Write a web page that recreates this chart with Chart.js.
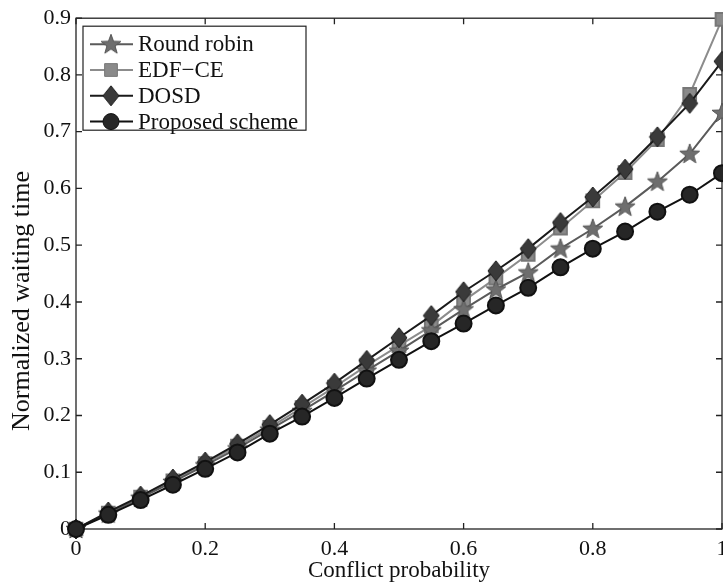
<!DOCTYPE html>
<html>
<head>
<meta charset="utf-8">
<script src="https://cdn.jsdelivr.net/npm/chart.js@4"></script>
<style>
  html, body { margin: 0; padding: 0; background: #fff; overflow: hidden; }
  #wrap { width: 723px; height: 586px; overflow: hidden; }
</style>
</head>
<body>
<div id="wrap"><canvas id="chart" width="745" height="586"></canvas></div>
<script>
// conflict probability (x) and normalized waiting time per scheme
const probs = [0, 0.05, 0.1, 0.15, 0.2, 0.25, 0.3, 0.35, 0.4, 0.45, 0.5,
               0.55, 0.6, 0.65, 0.7, 0.75, 0.8, 0.85, 0.9, 0.95, 1];
const roundRobin = [0, 0.027, 0.055, 0.083, 0.112, 0.142, 0.175, 0.208, 0.243, 0.279, 0.314,
                    0.350, 0.387, 0.422, 0.452, 0.494, 0.529, 0.568, 0.612, 0.661, 0.733];
const edfCe = [0, 0.028, 0.056, 0.085, 0.115, 0.146, 0.179, 0.214, 0.250, 0.288, 0.323,
               0.358, 0.402, 0.442, 0.484, 0.530, 0.578, 0.628, 0.686, 0.766, 0.898];
const dosd = [0, 0.030, 0.058, 0.088, 0.118, 0.150, 0.184, 0.220, 0.257, 0.297, 0.337,
              0.376, 0.418, 0.455, 0.494, 0.540, 0.585, 0.634, 0.691, 0.750, 0.824];
const proposed = [0, 0.025, 0.051, 0.078, 0.106, 0.135, 0.168, 0.198, 0.231, 0.265, 0.298,
                  0.331, 0.362, 0.394, 0.425, 0.461, 0.494, 0.524, 0.559, 0.589, 0.627];

const xTicks = [0, 0.2, 0.4, 0.6, 0.8, 1];
const yTicks = [0, 0.1, 0.2, 0.3, 0.4, 0.5, 0.6, 0.7, 0.8, 0.9];
const yTitle = 'Normalized waiting time';

const FONT = '"Liberation Serif", "Times New Roman", serif';

function makeStar() {
  const c = document.createElement('canvas');
  c.width = 22; c.height = 22;
  const g = c.getContext('2d');
  g.beginPath();
  for (let i = 0; i < 10; i++) {
    const r = i % 2 === 0 ? 10.5 : 4.3;
    const a = -Math.PI / 2 + i * Math.PI / 5;
    g.lineTo(11 + r * Math.cos(a), 11.5 + r * Math.sin(a));
  }
  g.closePath();
  g.fillStyle = '#6e6e6e';
  g.fill();
  g.strokeStyle = '#555';
  g.lineWidth = 1;
  g.stroke();
  return c;
}

function makeDiamond() {
  const c = document.createElement('canvas');
  c.width = 18; c.height = 22;
  const g = c.getContext('2d');
  g.beginPath();
  g.moveTo(9, 1); g.lineTo(17, 11); g.lineTo(9, 21); g.lineTo(1, 11);
  g.closePath();
  g.fillStyle = '#3a3a3a';
  g.fill();
  g.strokeStyle = '#1e1e1e';
  g.lineWidth = 1;
  g.stroke();
  return c;
}

const starImg = makeStar();
const diamondImg = makeDiamond();

function pts(ys) {
  return probs.map((x, i) => ({ x: x, y: ys[i] }));
}

// axes box with inward ticks on all four sides, plus the y title
const framePlugin = {
  id: 'frame',
  beforeDatasetsDraw(chart) {
    const ctx = chart.ctx;
    const { left, right, top, bottom } = chart.chartArea;
    const xs = chart.scales.x, ys = chart.scales.y;
    ctx.save();
    ctx.strokeStyle = '#222';
    ctx.lineWidth = 1.3;
    ctx.strokeRect(left, top, right - left, bottom - top);
    ctx.beginPath();
    xTicks.forEach(v => {
      const px = xs.getPixelForValue(v);
      ctx.moveTo(px, bottom); ctx.lineTo(px, bottom - 6);
      ctx.moveTo(px, top); ctx.lineTo(px, top + 6);
    });
    yTicks.forEach(v => {
      const py = ys.getPixelForValue(v);
      ctx.moveTo(left, py); ctx.lineTo(left + 6, py);
      ctx.moveTo(right, py); ctx.lineTo(right - 6, py);
    });
    ctx.stroke();

    // y title sits a bit below the middle of the axis in the original
    ctx.translate(22, ys.getPixelForValue(0.4) - 1);
    ctx.rotate(-Math.PI / 2);
    ctx.font = '26px ' + FONT;
    ctx.fillStyle = '#111';
    ctx.textAlign = 'center';
    ctx.textBaseline = 'middle';
    ctx.fillText(yTitle, 0, 0);
    ctx.restore();
  }
};

// matlab-style legend box inside the plot
const legendPlugin = {
  id: 'boxLegend',
  afterDraw(chart) {
    const ctx = chart.ctx;
    const { left, top } = chart.chartArea;
    const x0 = left + 7, y0 = top + 8, w = 223, h = 104;
    ctx.save();
    ctx.fillStyle = '#fff';
    ctx.fillRect(x0, y0, w, h);
    ctx.strokeStyle = '#222';
    ctx.lineWidth = 1.2;
    ctx.strokeRect(x0, y0, w, h);
    ctx.font = '23px ' + FONT;
    ctx.textBaseline = 'middle';
    chart.data.datasets.forEach((ds, i) => {
      const cy = y0 + 18 + i * 25.8;
      ctx.strokeStyle = ds.borderColor;
      ctx.lineWidth = 2;
      ctx.beginPath();
      ctx.moveTo(x0 + 7, cy); ctx.lineTo(x0 + 50, cy);
      ctx.stroke();
      ctx.fillStyle = ds.pointBackgroundColor;
      ctx.strokeStyle = ds.pointBorderColor;
      ctx.lineWidth = 1;
      Chart.helpers.drawPoint(ctx, { pointStyle: ds.pointStyle, radius: ds.pointRadius, rotation: 0, borderWidth: 1 }, x0 + 28, cy);
      ctx.fillStyle = '#111';
      ctx.fillText(ds.label, x0 + 55, cy + 1);
    });
    ctx.restore();
  }
};

new Chart(document.getElementById('chart'), {
  type: 'line',
  data: {
    datasets: [
      { label: 'Round robin', data: pts(roundRobin), borderColor: '#5a5a5a', borderWidth: 2,
        pointStyle: starImg, pointRadius: 9, pointBackgroundColor: '#6e6e6e', pointBorderColor: '#555', order: 2 },
      { label: 'EDF\u2212CE', data: pts(edfCe), borderColor: '#8c8c8c', borderWidth: 2,
        pointStyle: 'rect', pointRadius: 9, pointBackgroundColor: '#8a8a8a', pointBorderColor: '#777', order: 3 },
      { label: 'DOSD', data: pts(dosd), borderColor: '#1a1a1a', borderWidth: 2,
        pointStyle: diamondImg, pointRadius: 9, pointBackgroundColor: '#3a3a3a', pointBorderColor: '#1e1e1e', order: 1 },
      { label: 'Proposed scheme', data: pts(proposed), borderColor: '#111', borderWidth: 2,
        pointStyle: 'circle', pointRadius: 8, pointBackgroundColor: '#262626', pointBorderColor: '#111', order: 0 }
    ]
  },
  options: {
    responsive: false,
    animation: false,
    clip: false,
    layout: { padding: { top: 17, right: 23, left: 0, bottom: 0 } },
    elements: { line: { tension: 0 } },
    plugins: { legend: { display: false }, tooltip: { enabled: false } },
    scales: {
      x: {
        type: 'linear', min: 0, max: 1,
        afterBuildTicks: s => { s.ticks = xTicks.map(v => ({ value: v })); },
        afterFit: s => { s.height = 57; },
        grid: { display: false, drawTicks: false }, border: { display: false },
        ticks: { color: '#111', font: { family: FONT, size: 22 }, padding: 7,
                 maxRotation: 0, callback: v => String(Number(v.toFixed(1))) },
        title: { display: true, text: 'Conflict probability', color: '#111',
                 font: { family: FONT, size: 23 }, padding: { top: 0, bottom: 1 } }
      },
      y: {
        type: 'linear', min: 0, max: 0.9,
        afterBuildTicks: s => { s.ticks = yTicks.map(v => ({ value: v })); },
        afterFit: s => { s.width = 76; },
        grid: { display: false, drawTicks: false }, border: { display: false },
        ticks: { color: '#111', font: { family: FONT, size: 22 }, padding: 5,
                 callback: v => String(Number(v.toFixed(1))) },
        title: { display: false }
      }
    }
  },
  plugins: [framePlugin, legendPlugin]
});
</script>
</body>
</html>
